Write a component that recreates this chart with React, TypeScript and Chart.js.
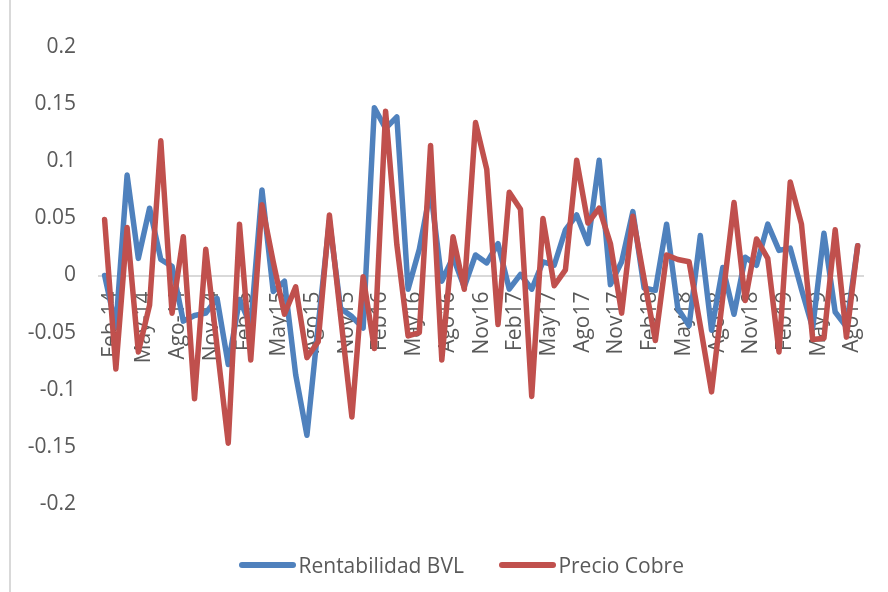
import { useEffect, useRef } from 'react';
import { Chart, registerables } from 'chart.js';

Chart.register(...registerables);

// Monthly categories, Feb 2014 – Sep 2019
const categories = [
  'Feb-14', 'Mar-14', 'Abr-14', 'May-14', 'Jun-14', 'Jul-14', 'Ago-14', 'Sep-14', 'Oct-14', 'Nov-14', 'Dic-14',
  'Ene15', 'Feb15', 'Mar15', 'Abr15', 'May15', 'Jun15', 'Jul15', 'Ago15', 'Sep15', 'Oct15', 'Nov15', 'Dic15',
  'Ene16', 'Feb16', 'Mar16', 'Abr16', 'May16', 'Jun16', 'Jul16', 'Ago16', 'Sep16', 'Oct16', 'Nov16', 'Dic16',
  'Ene17', 'Feb17', 'Mar17', 'Abr17', 'May17', 'Jun17', 'Jul17', 'Ago17', 'Sep17', 'Oct17', 'Nov17', 'Dic17',
  'Ene18', 'Feb18', 'Mar18', 'Abr18', 'May18', 'Jun18', 'Jul18', 'Ago18', 'Sep18', 'Oct18', 'Nov18', 'Dic18',
  'Ene19', 'Feb19', 'Mar19', 'Abr19', 'May19', 'Jun19', 'Jul19', 'Ago19', 'Sep19',
];

// Monthly return of the BVL index
const rentabilidadBVL = [
  0.000, -0.045, 0.088, 0.015, 0.059, 0.014, 0.008, -0.040, -0.035, -0.033, -0.020,
  -0.078, -0.021, -0.044, 0.075, -0.014, -0.005, -0.087, -0.140, -0.044, 0.048, -0.029, -0.036,
  -0.046, 0.147, 0.129, 0.139, -0.012, 0.023, 0.075, -0.005, 0.016, -0.010, 0.018, 0.011,
  0.028, -0.012, 0.001, -0.012, 0.012, 0.009, 0.040, 0.053, 0.028, 0.101, -0.008, 0.012,
  0.056, -0.011, -0.013, 0.045, -0.029, -0.044, 0.035, -0.048, 0.007, -0.034, 0.016, 0.009,
  0.045, 0.022, 0.024, -0.012, -0.046, 0.037, -0.032, -0.045, 0.026,
];

// Monthly change of the copper price
const precioCobre = [
  0.049, -0.082, 0.042, -0.067, -0.026, 0.118, -0.033, 0.034, -0.108, 0.023, -0.062,
  -0.147, 0.045, -0.074, 0.062, 0.012, -0.034, -0.010, -0.072, -0.058, 0.053, -0.036, -0.124,
  -0.001, -0.064, 0.144, 0.027, -0.053, -0.050, 0.114, -0.074, 0.034, -0.012, 0.134, 0.093,
  -0.043, 0.073, 0.058, -0.106, 0.050, -0.009, 0.005, 0.101, 0.046, 0.059, 0.028, -0.033,
  0.052, -0.003, -0.057, 0.018, 0.014, 0.012, -0.044, -0.102, -0.019, 0.064, -0.022, 0.032,
  0.015, -0.067, 0.082, 0.045, -0.056, -0.055, 0.040, -0.054, 0.026,
];

const seriesNames = ['Rentabilidad BVL', 'Precio Cobre'];
const seriesColors = ['#4F81BD', '#C0504D'];

const TEXT = '#595959';
const FONT = "'Open Sans', 'DejaVu Sans', sans-serif";
const LINE_W = 5.5;

export default function App() {
  const ref = useRef<HTMLCanvasElement>(null);

  useEffect(() => {
    const canvas = ref.current;
    if (!canvas) return;

    const series = [rentabilidadBVL, precioCobre];
    const chart = new Chart(canvas, {
      type: 'line',
      data: {
        labels: categories,
        datasets: series.map((data, i) => ({
          label: seriesNames[i],
          data,
          borderColor: seriesColors[i],
          backgroundColor: seriesColors[i],
          borderWidth: LINE_W,
          pointRadius: 0,
          pointHoverRadius: 0,
          tension: 0,
          borderJoinStyle: 'round',
          borderCapStyle: 'round',
          // copper line is painted above the BVL line
          order: i === 1 ? 0 : 1,
        })),
      },
      options: {
        responsive: false,
        animation: false,
        events: [],
        layout: { padding: { left: 10, right: 17, top: 47.3, bottom: 88.3 } },
        scales: {
          x: {
            type: 'category',
            offset: true,
            position: { y: 0 },
            grid: { display: false, drawTicks: false },
            border: { display: true, color: '#d9d9d9', width: 2 },
            ticks: {
              autoSkip: false,
              minRotation: 90,
              maxRotation: 90,
              padding: 16,
              labelOffset: 6,
              color: TEXT,
              font: { family: FONT, size: 21 },
              callback: (_v: any, i: number) => (i % 3 === 0 ? categories[i] : null),
            },
            afterFit: (s: any) => {
              s.height = 0;
            },
          },
          y: {
            min: -0.2,
            max: 0.2,
            grid: { display: false, drawTicks: false },
            border: { display: false },
            ticks: {
              stepSize: 0.05,
              padding: 23,
              color: TEXT,
              font: { family: FONT, size: 21 },
              callback: (v: any) => String(Number(Number(v).toFixed(2))),
            },
            afterFit: (s: any) => {
              s.width = 89;
            },
          },
        },
        plugins: {
          tooltip: { enabled: false },
          legend: { display: false },
        },
      },
    } as any);

    return () => chart.destroy();
  }, []);

  return (
    <div
      style={{
        position: 'fixed',
        left: 0,
        top: 0,
        width: 888,
        height: 592,
        background: '#ffffff',
        overflow: 'hidden',
      }}
    >
      <div
        style={{
          position: 'absolute',
          left: 9,
          top: 0,
          width: 2,
          height: 592,
          background: '#d9d9d9',
        }}
      />
      <canvas ref={ref} width={888} height={592} style={{ position: 'absolute', left: 0, top: 0 }} />
      <div
        style={{
          position: 'absolute',
          left: 239,
          top: 551,
          height: 28,
          display: 'flex',
          alignItems: 'center',
          fontFamily: FONT,
          fontSize: 21,
          lineHeight: '28px',
          color: TEXT,
          whiteSpace: 'nowrap',
        }}
      >
        {seriesNames.map((name, i) => (
          <div
            key={name}
            style={{ display: 'flex', alignItems: 'center', marginLeft: i === 0 ? 0 : 35 }}
          >
            <span
              style={{
                display: 'inline-block',
                width: 57,
                height: 6,
                borderRadius: 3,
                background: seriesColors[i],
                marginRight: 2.5,
              }}
            />
            <span>{name}</span>
          </div>
        ))}
      </div>
    </div>
  );
}
